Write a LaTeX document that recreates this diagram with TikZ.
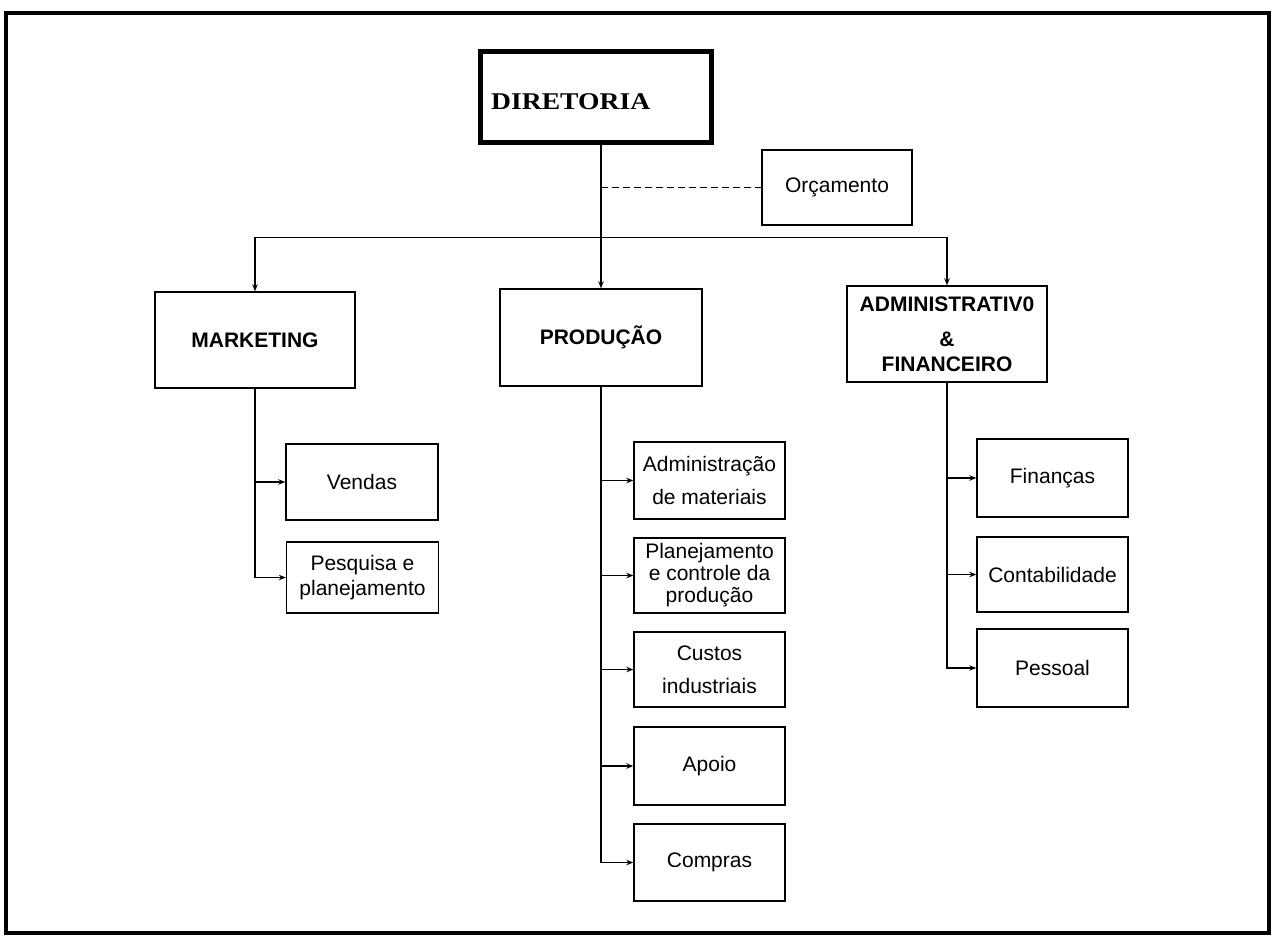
\documentclass[tikz,border=0pt]{standalone}
\usepackage{fontspec}
\setmainfont{Liberation Sans}
\newfontfamily\serifbold{Liberation Serif}[BoldFont={Liberation Serif Bold}]
\usetikzlibrary{arrows.meta}

\tikzset{
  unit/.style={draw, line width=1.4pt, minimum width=#1, inner sep=2pt, align=center,
               font=\fontsize{21}{25}\selectfont},
  head/.style={draw, line width=1.4pt, align=center,
               font=\fontsize{21}{30}\selectfont\bfseries},
  link/.style={line width=1.3pt},
  arr/.style={link, -{Stealth[length=7pt,width=5.5pt]}},
  staff/.style={line width=1.2pt, dash pattern=on 7pt off 4pt},
}

\begin{document}
\begin{tikzpicture}[x=1pt, y=-1pt]
\useasboundingbox (0,0) rectangle (1277,938);

% outer frame
\draw[line width=3.5pt] (6,13) rectangle (1269,933);

% board
\node[draw, line width=4.5pt, minimum width=231pt, minimum height=91pt] (dir) at (596,97) {};
\node[anchor=west, inner sep=0pt, font=\serifbold\bfseries\fontsize{24}{27}\selectfont]
  (dirtext) at (491,102) {\scalebox{1.15}[1]{DIRETORIA}};

% staff unit
\node[unit=150pt, minimum height=75pt] (orc) at (837,187.5) {Orçamento};

% departments
\node[head, minimum width=200pt, minimum height=96pt] (mkt)  at (255,340) {MARKETING};
\node[head, minimum width=202pt, minimum height=97pt] (prod) at (601,337.5) {PRODUÇÃO};
\node[head, minimum width=200pt, minimum height=96pt] (adm)  at (947,334)
  {ADMINISTRATIV0\\[5pt]\&\\[-5pt]FINANCEIRO};

% marketing units
\node[unit=152pt, minimum height=76pt] (vendas) at (362,482) {Vendas};
\node[unit=152pt, minimum height=71pt] (pesq)   at (362.5,577.5) {Pesquisa e\\planejamento};

% production units
\node[unit=151pt, minimum height=77pt] (admmat) at (709.5,480.5) {Administração\\[8pt]de materiais};
\node[unit=151pt, minimum height=75pt] (pcp)    at (709.5,575.5) {Planejamento\\[-3pt]e controle da\\[-3pt]produção};
\node[unit=151pt, minimum height=75pt] (custos) at (709.5,669.5) {Custos\\[8pt]industriais};
\node[unit=151pt, minimum height=78pt] (apoio)  at (709.5,766) {Apoio};
\node[unit=151pt, minimum height=77pt] (compr)  at (709.5,862.5) {Compras};

% administrative units
\node[unit=151pt, minimum height=78pt] (fin)  at (1052.5,478) {Finanças};
\node[unit=151pt, minimum height=75pt] (cont) at (1052.5,574.5) {Contabilidade};
\node[unit=151pt, minimum height=78pt] (pess) at (1052.5,668) {Pessoal};

% top level links
\coordinate (bus) at (601,237.5);
\draw[arr] (prod.north |- dir.south) -- (prod.north);
\draw[arr] (bus) -| (mkt.north);
\draw[arr] (bus) -| (adm.north);
\draw[staff] (bus |- orc.west) -- (orc.west);

% unit links
\foreach \u in {vendas,pesq}    \draw[arr] (mkt.south)  |- (\u.west);
\foreach \u in {admmat,pcp,custos,apoio,compr} \draw[arr] (prod.south) |- (\u.west);
\foreach \u in {fin,cont,pess}  \draw[arr] (adm.south)  |- (\u.west);
\end{tikzpicture}
\end{document}
